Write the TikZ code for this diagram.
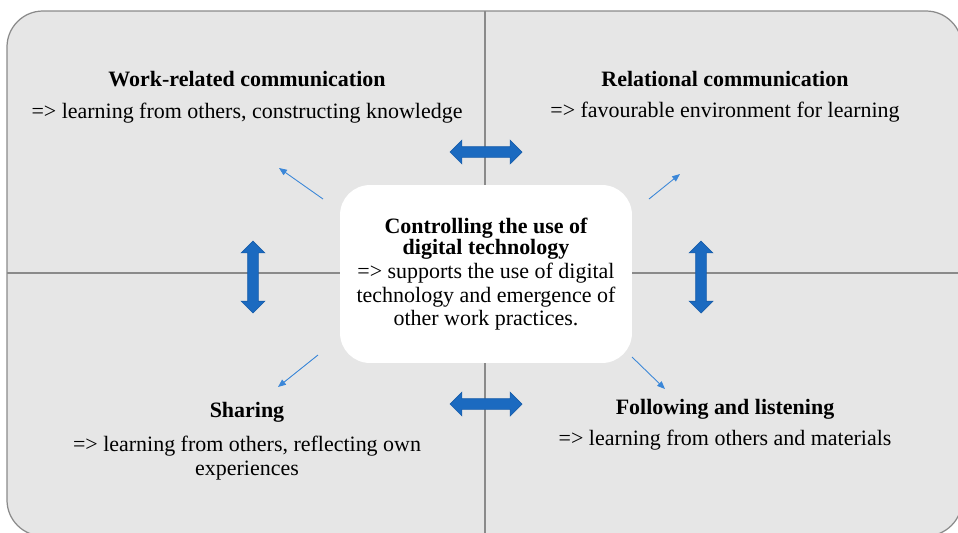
\documentclass[tikz,border=0pt]{standalone}
\usepackage{fontspec}
\setmainfont{Liberation Serif}
\usepackage{tikz}
\usetikzlibrary{shapes.arrows,arrows.meta}

\definecolor{panelgray}{HTML}{E6E6E6}
\definecolor{edgegray}{HTML}{8A8A8A}
\definecolor{blockblue}{HTML}{1B6AC0}
\definecolor{blockedge}{HTML}{175DAA}
\definecolor{thinblue}{HTML}{3B87D8}

\tikzset{
	head/.style={font=\bfseries\fontsize{12.5}{11.5}\selectfont, align=center, inner sep=0},
	desc/.style={font=\fontsize{12.5}{13.4}\selectfont, align=center, inner sep=0},
	twoway/.style={double arrow, fill=blockblue, draw=blockedge, line width=0.4pt,
		minimum height=1.44cm, minimum width=0.46cm, double arrow head extend=0.13cm,
		inner xsep=0, inner ysep=0.1cm},
	thinarrow/.style={thinblue, line width=0.5pt, -{Triangle[length=4.5pt,width=3.6pt]}}
}

\begin{document}
\begin{tikzpicture}[x=0.02cm,y=-0.02cm]
			\useasboundingbox (0,0) rectangle (958,532);
			% panel and quadrant lines
			\filldraw[fill=panelgray, draw=edgegray, line width=0.7pt, rounded corners=0.72cm] (7,11) rectangle (962,536);
			\draw[edgegray, line width=0.7pt] (7,273) -- (962,273);
			\draw[edgegray, line width=0.7pt] (485,11) -- (485,536);
			% middle box
			\node[fill=white, rounded corners=0.6cm, minimum width=5.84cm, minimum height=3.56cm, inner sep=0] (ctrl) at (486,274) {};
			% block arrows between quadrants
			\node[twoway] (arrN) at (486,152) {};
			\node[twoway] (arrS) at (486,404) {};
			\node[twoway, rotate=90] (arrW) at (253,277) {};
			\node[twoway, rotate=90] (arrE) at (701,277) {};
			% quadrant texts
			\node[head, anchor=base] (work) at (247,86) {Work-related communication};
			\node[desc, anchor=base] (workd) at (247,118) {=> learning from others, constructing knowledge};
			\node[head, anchor=base] (rel) at (725,86) {Relational communication};
			\node[desc, anchor=base] (reld) at (725,117) {=> favourable environment for learning};
			\node[head, anchor=base] (share) at (247,417) {Sharing};
			\node[desc, anchor=north] (shared) at (247,436) {=> learning from others, reflecting own\\experiences};
			\node[head, anchor=base] (follow) at (725,414) {Following and listening};
			\node[desc, anchor=base] (followd) at (725,445) {=> learning from others and materials};
			\node[head, anchor=north] (ctrlh) at (486,218) {Controlling the use of\\digital technology};
			\node[desc, anchor=north] (ctrld) at (486,263) {=> supports the use of digital\\technology and emergence of\\other work practices.};
			% thin arrows out of the middle
			\coordinate (nwA) at (323,199); \coordinate (nwB) at (279,168);
			\coordinate (neA) at (649,199); \coordinate (neB) at (680,174);
			\coordinate (swA) at (318,355); \coordinate (swB) at (278,387);
			\coordinate (seA) at (632,357); \coordinate (seB) at (665,389);
			\foreach \a/\b in {nwA/nwB,neA/neB,swA/swB,seA/seB}
				\draw[thinarrow] (\a) -- (\b);
		\end{tikzpicture}
\end{document}
